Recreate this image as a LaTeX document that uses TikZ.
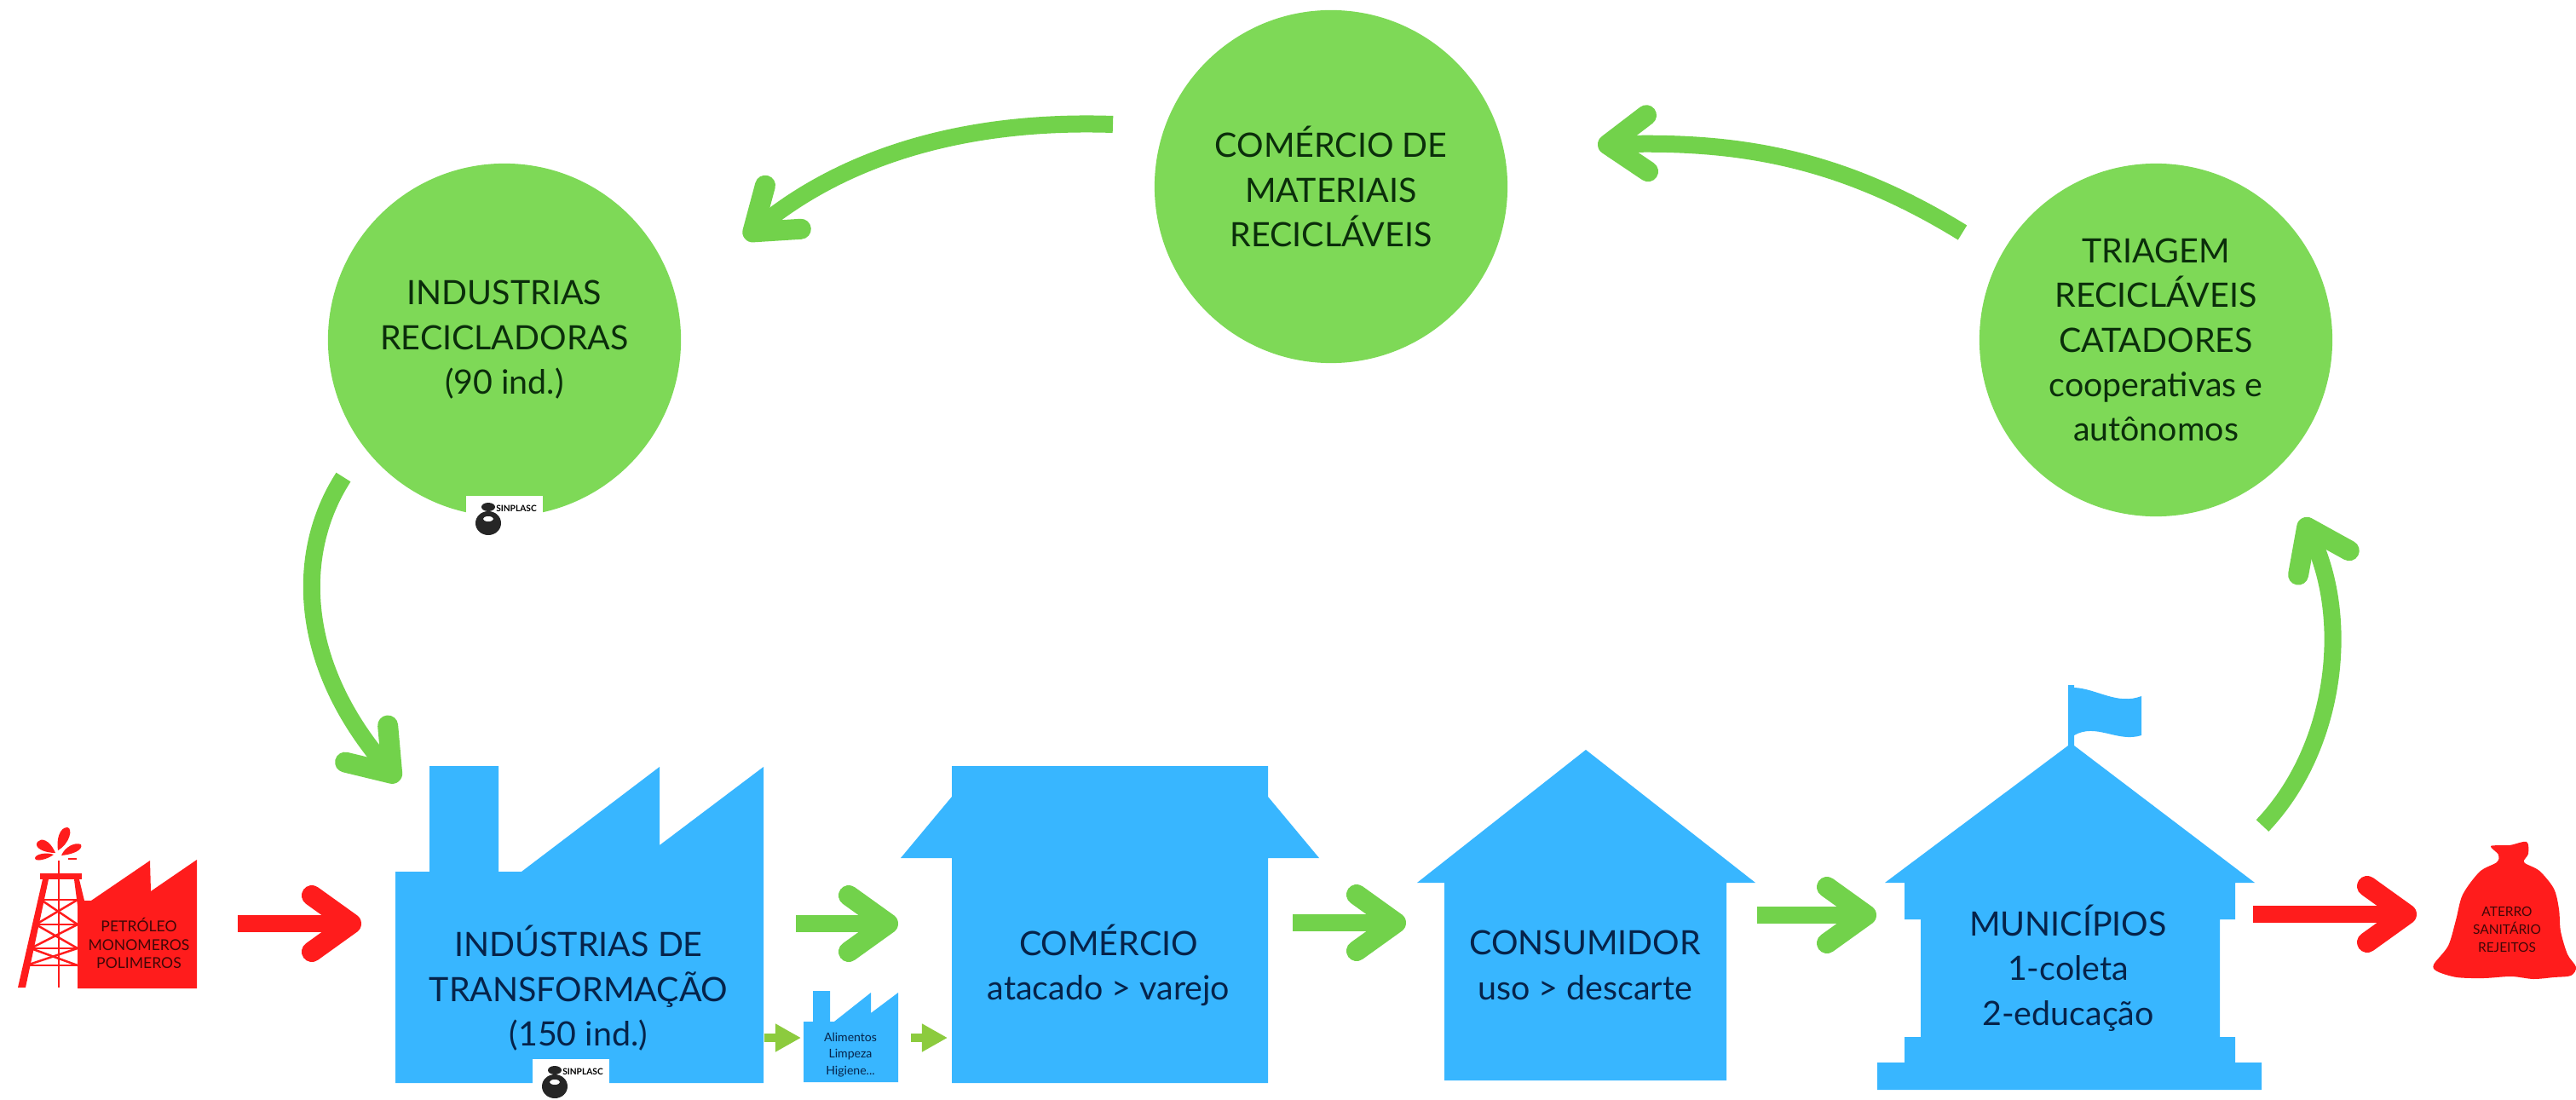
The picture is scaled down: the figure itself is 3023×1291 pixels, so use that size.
\documentclass[tikz,border=0pt]{standalone}
\usepackage{fontspec}
\setmainfont{Lato}
\usetikzlibrary{arrows.meta}
\definecolor{circlegreen}{HTML}{7ED957}
\definecolor{arrowgreen}{HTML}{72D24B}
\definecolor{minigreen}{HTML}{8CCB3E}
\definecolor{shapeblue}{HTML}{38B6FF}
\definecolor{wastered}{HTML}{FF1C1C}
\definecolor{navytext}{HTML}{06234A}
\definecolor{leaftext}{HTML}{0B2E0B}
\tikzset{
	bubble/.style={circle, fill=circlegreen, minimum size=4.14cm, inner sep=0pt, align=center, text=leaftext, font=\fontsize{11.2}{14.9}\selectfont},
	bluetext/.style={align=center, text=navytext, font=\fontsize{11.2}{14.9}\selectfont},
	tinytext/.style={align=center, text=navytext, font=\fontsize{4}{5.5}\selectfont},
	redtext/.style={align=center, text=black!75!wastered, font=\fontsize{5}{6}\selectfont},
	goarrow/.style={arrowgreen, line width=0.2cm, -{Straight Barb[length=0.46cm,width=0.66cm,line width=0.24cm,round]}},
	wastearrow/.style={goarrow, wastered},
	miniarrow/.style={minigreen, line width=0.1cm, -{Triangle[length=0.3cm,width=0.31cm]}},
	rig/.style={wastered, line width=0.025cm},
	logomark/.pic={
		\fill[white] (0,0) rectangle (90,38);
		\fill[black!85] (26,13) ellipse (8 and 5);
		\fill[black!85] (26,32) ellipse (15 and 14);
		\fill[white] (26,27) ellipse (6 and 3);
		\node[font=\bfseries\fontsize{2.9}{3}\selectfont, inner sep=0pt] (-label) at (59,15) {SINPLASC};
	}
}
\begin{document}
\begin{tikzpicture}[x=0.01cm, y=-0.01cm]
	\useasboundingbox (0,0) rectangle (3023,1291);

	\node[bubble] (recicladoras) at (592,399) {INDUSTRIAS\\RECICLADORAS\\(90 ind.)};
	\node[bubble] (mercado) at (1562,219) {COMÉRCIO DE\\MATERIAIS\\RECICLÁVEIS};
	\node[bubble] (triagem) at (2530,399) {TRIAGEM\\RECICLÁVEIS\\CATADORES\\cooperativas e\\autônomos};

	\pic (logoa) at (547,582) {logomark};

	\fill[shapeblue] (464,1271) -- (464,1023) -- (504,1023) -- (504,899) -- (585,899) -- (585,1023) -- (612,1023) -- (774,900) -- (774,992) -- (896,900) -- (896,1271) -- cycle;
	\fill[shapeblue] (943,1270) -- (943,1199) -- (954,1199) -- (954,1163) -- (974,1163) -- (974,1199) -- (979,1199) -- (1022,1165) -- (1022,1189) -- (1054,1165) -- (1054,1270) -- cycle;
	\fill[shapeblue] (1117,1271) -- (1117,1007) -- (1057,1007) -- (1117,935) -- (1117,899) -- (1488,899) -- (1488,935) -- (1548,1007) -- (1488,1007) -- (1488,1271) -- cycle;
	\fill[shapeblue] (1695,1268) -- (1695,1036) -- (1663,1036) -- (1861,880) -- (2060,1036) -- (2026,1036) -- (2026,1268) -- cycle;
	\fill[shapeblue] (2203,1279) -- (2203,1247) -- (2235,1247) -- (2235,1217) -- (2254,1217) -- (2254,1079) -- (2235,1079) -- (2235,1036) -- (2212,1036) -- (2427,875) -- (2427,804) -- (2434,804) -- (2434,875) -- (2646,1036) -- (2623,1036) -- (2623,1079) -- (2605,1079) -- (2605,1217) -- (2623,1217) -- (2623,1247) -- (2654,1247) -- (2654,1279) -- cycle;
	\fill[shapeblue] (2434,807) .. controls (2460,808) and (2485,828) .. (2513,817) -- (2513,863) .. controls (2485,872) and (2460,848) .. (2434,863) -- cycle;

	\pic (logob) at (625,1243) {logomark};

	\node[bluetext] (transformacao) at (679,1160) {INDÚSTRIAS DE\\TRANSFORMAÇÃO\\(150 ind.)};
	\node[tinytext] (higiene) at (998,1238) {Alimentos\\Limpeza\\Higiene...};
	\node[bluetext] (comercio) at (1301,1133) {COMÉRCIO\\atacado > varejo};
	\node[bluetext] (consumidor) at (1860,1133) {CONSUMIDOR\\uso > descarte};
	\node[bluetext] (municipios) at (2427,1136) {MUNICÍPIOS\\1-coleta\\2-educação};

	\fill[wastered] (91,1160) -- (91,1057) -- (107,1057) -- (176,1010) -- (177,1046) -- (231,1009) -- (231,1160) -- cycle;
	\fill[wastered] (47,1025) rectangle (96,1032);
	\fill[wastered] (50,1032) -- (57,1032) -- (30,1159) -- (21,1159) -- cycle;
	\fill[wastered] (87,1032) -- (93,1032) -- (99,1057) -- (91,1063) -- cycle;
	\draw[rig] (69,1010) -- (69,1159);
	\draw[rig] (48,1056) -- (91,1056);
	\draw[rig] (42,1085) -- (91,1085);
	\draw[rig] (36,1113) -- (91,1113);
	\draw[rig] (31,1133) -- (91,1133);
	\draw[rig] (48,1056) -- (91,1085);
	\draw[rig] (42,1085) -- (91,1056);
	\draw[rig] (42,1085) -- (91,1113);
	\draw[rig] (36,1113) -- (91,1085);
	\draw[rig] (36,1113) -- (91,1133);
	\draw[rig] (31,1133) -- (91,1113);
	\draw[rig] (80,1008) -- (90,1008);
	\fill[wastered] (68,998) .. controls (66,985) and (70,971) .. (79,971) .. controls (86,972) and (82,990) .. (68,998) -- cycle;
	\fill[wastered] (65,1001) .. controls (58,985) and (48,983) .. (44,988) .. controls (39,995) and (52,1001) .. (65,1001) -- cycle;
	\fill[wastered] (72,1004) .. controls (76,994) and (88,988) .. (95,991) .. controls (98,998) and (84,1003) .. (72,1004) -- cycle;
	\fill[wastered] (63,1003) .. controls (55,1000) and (42,1002) .. (41,1007) .. controls (41,1012) and (55,1009) .. (63,1003) -- cycle;
	\node[redtext] (petroleo) at (163,1107) {PETRÓLEO\\MONOMEROS\\POLIMEROS};

	\fill[wastered] plot[smooth cycle, tension=0.5] coordinates {(2923,993) (2945,992) (2965,988) (2967,1002) (2962,1012) (2980,1022) (2997,1043) (3003,1067) (3005,1093) (3013,1120) (3023,1135) (3017,1145) (2997,1147) (2973,1149) (2947,1146) (2915,1148) (2883,1147) (2860,1140) (2856,1132) (2873,1110) (2882,1080) (2890,1050) (2910,1023) (2930,1012) (2932,1003)};
	\node[redtext, font=\fontsize{4.4}{6}\selectfont] (aterro) at (2942,1091) {ATERRO\\SANITÁRIO\\REJEITOS};

	\coordinate (petroleoout) at (279,1084);
	\coordinate (transfin) at (424,1084);
	\coordinate (transfout) at (934,1084);
	\coordinate (comercioin) at (1054,1084);
	\coordinate (comercioout) at (1517,1083);
	\coordinate (consin) at (1650,1083);
	\coordinate (consout) at (2062,1074);
	\coordinate (munin) at (2202,1074);
	\coordinate (munout) at (2644,1073);
	\coordinate (aterroin) at (2836,1073);
	\coordinate (miniaout) at (897,1218);
	\coordinate (miniain) at (940,1218);
	\coordinate (minibout) at (1069,1218);
	\coordinate (minibin) at (1112,1218);
	\coordinate (munup) at (2655,969);
	\coordinate (triagemin) at (2702,608);
	\coordinate (triagemout) at (2303,273);
	\coordinate (mercadoin) at (1875,170);
	\coordinate (mercadoout) at (1306,146);
	\coordinate (recicin) at (874,280);
	\coordinate (recicout) at (403,560);
	\coordinate (transfup) at (468,917);

	\draw[wastearrow] (petroleoout) -- (transfin);
	\draw[goarrow] (transfout) -- (comercioin);
	\draw[goarrow] (comercioout) -- (consin);
	\draw[goarrow] (consout) -- (munin);
	\draw[wastearrow] (munout) -- (aterroin);
	\draw[miniarrow] (miniaout) -- (miniain);
	\draw[miniarrow] (minibout) -- (minibin);
	\draw[goarrow] (munup) .. controls (2740,880) and (2760,730) .. (triagemin);
	\draw[goarrow] (triagemout) .. controls (2160,185) and (2040,165) .. (mercadoin);
	\draw[goarrow] (mercadoout) .. controls (1130,140) and (990,185) .. (recicin);
	\draw[goarrow] (recicout) .. controls (345,650) and (350,780) .. (transfup);
\end{tikzpicture}
\end{document}
